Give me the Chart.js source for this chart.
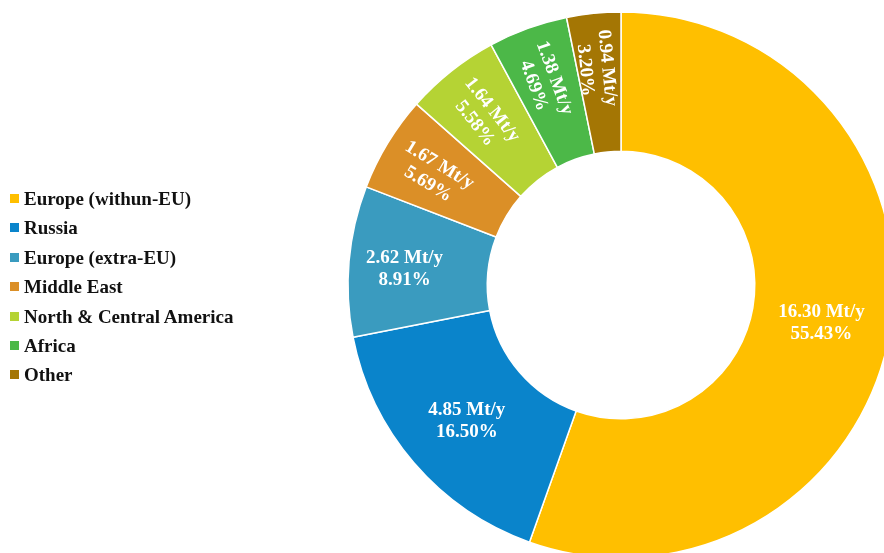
<!DOCTYPE html>
<html>
<head>
<meta charset="utf-8">
<script src="https://cdn.jsdelivr.net/npm/chart.js@4/dist/chart.umd.min.js"></script>
<style>
  html, body { margin: 0; padding: 0; background: #fff; overflow: hidden; width: 884px; height: 553px; }
  #wrap { position: absolute; left: 0; top: 0; width: 900px; height: 600px; }
  #legend { position: absolute; left: 10px; top: 184px; font-family: "Liberation Serif", "Times New Roman", serif; font-weight: bold; font-size: 19px; color: #111; }
  #legend div { height: 29.4px; line-height: 29.4px; white-space: nowrap; }
  #legend span { display: inline-block; width: 9px; height: 9px; margin-right: 5px; vertical-align: 2px; }
</style>
</head>
<body>
<div id="wrap"><canvas id="originChart" width="900" height="600"></canvas></div>
<div id="legend"></div>
<script>
// Origin of supply, Mt/y
const origins = ['Europe (withun-EU)', 'Russia', 'Europe (extra-EU)', 'Middle East', 'North & Central America', 'Africa', 'Other'];
const volumes = [16.30, 4.85, 2.62, 1.67, 1.64, 1.38, 0.94];
const shares = [55.43, 16.50, 8.91, 5.69, 5.58, 4.69, 3.20];
const colors = ['#FFBF00', '#0A84CB', '#3A9BBF', '#DB8F27', '#B5D334', '#4CB848', '#A47604'];

// Legend
const legend = document.getElementById('legend');
origins.forEach((name, i) => {
    const row = document.createElement('div');
    const box = document.createElement('span');
    box.style.background = colors[i];
    row.appendChild(box);
    row.appendChild(document.createTextNode(name));
    legend.appendChild(row);
});

// Value labels inside the ring, small slices turned along the radius
const sliceLabels = {
    id: 'sliceLabels',
    afterDatasetsDraw(chart) {
        const ctx = chart.ctx;
        const arcs = chart.getDatasetMeta(0).data;
        ctx.save();
        ctx.fillStyle = '#fff';
        ctx.font = 'bold 19px "Liberation Serif", "Times New Roman", serif';
        ctx.textAlign = 'center';
        ctx.textBaseline = 'middle';
        arcs.forEach((arc, i) => {
            const p = arc.getProps(['x', 'y', 'startAngle', 'endAngle', 'innerRadius', 'outerRadius'], true);
            const mid = (p.startAngle + p.endAngle) / 2;
            // narrow slices get their label pushed a bit outward
            const k = shares[i] > 10 ? 0.5 : 0.6;
            const r = p.innerRadius + (p.outerRadius - p.innerRadius) * k;
            ctx.save();
            ctx.translate(p.x + Math.cos(mid) * r, p.y + Math.sin(mid) * r);
            if (shares[i] < 6) ctx.rotate(mid - Math.PI);
            ctx.fillText(volumes[i].toFixed(2) + ' Mt/y', 0, -8);
            ctx.fillText(shares[i].toFixed(2) + '%', 0, 14);
            ctx.restore();
        });
        ctx.restore();
    }
};

const ctx = document.getElementById('originChart').getContext('2d');
const originChart = new Chart(ctx, {
    type: 'doughnut',
    data: {
        labels: origins,
        datasets: [{
            data: volumes,
            backgroundColor: colors,
            borderColor: '#fff',
            borderWidth: 1.5
        }]
    },
    options: {
        responsive: false,
        animation: false,
        radius: 273,
        cutout: '49%',
        layout: { padding: { left: 342, right: 0, top: 0, bottom: 30 } },
        plugins: {
            legend: { display: false },
            tooltip: { enabled: false }
        }
    },
    plugins: [sliceLabels]
});
</script>
</body>
</html>
